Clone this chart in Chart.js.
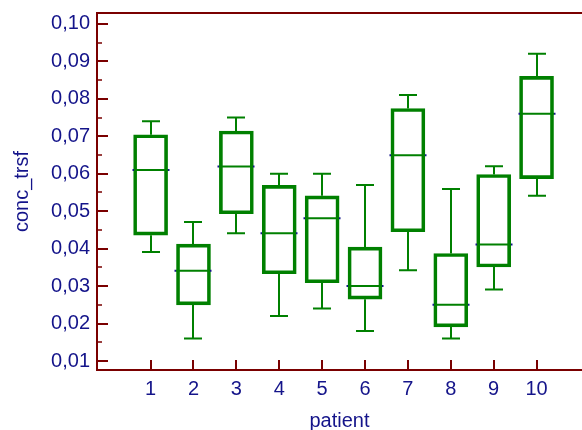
<!DOCTYPE html>
<html lang="en">
  <head>
    <meta charset="UTF-8" />
    <title>conc_trsf by patient</title>
    <script src="https://cdn.jsdelivr.net/npm/chart.js@4.4.1/dist/chart.umd.min.js"></script>
    <style>
      html,
      body {
        margin: 0;
        padding: 0;
        background: #fff;
      }
      #box {
        display: block;
      }
    </style>
  </head>
  <body>
    <canvas id="box" width="582" height="430"></canvas>
    <script>
      // values, one entry per patient
      const patients = [1, 2, 3, 4, 5, 6, 7, 8, 9, 10];
      const whiskerHigh = [0.074, 0.0471, 0.075, 0.06, 0.06, 0.057, 0.081, 0.0559, 0.062, 0.092];
      const q3 = [0.0704, 0.0412, 0.0714, 0.0569, 0.0541, 0.0404, 0.0774, 0.0387, 0.0598, 0.086];
      const medians = [0.061, 0.0341, 0.0619, 0.0441, 0.0481, 0.03, 0.0649, 0.025, 0.0411, 0.076];
      const q1 = [0.0436, 0.025, 0.0493, 0.0333, 0.0309, 0.0265, 0.0445, 0.0191, 0.0351, 0.0587];
      const whiskerLow = [0.0391, 0.016, 0.0441, 0.022, 0.024, 0.018, 0.0342, 0.016, 0.0291, 0.0541];
      const yTicks = [0.01, 0.02, 0.03, 0.04, 0.05, 0.06, 0.07, 0.08, 0.09, 0.1];
      const yMinor = [0.015, 0.025, 0.035, 0.045, 0.055, 0.065, 0.075, 0.085, 0.095];

      const green = "#008000";
      const maroon = "#7a0000";
      const navy = "#14148a";
      const font = { family: "'Liberation Sans', Arial, sans-serif", size: 20 };

      // whiskers, medians, axes frame and inward ticks
      const boxExtras = {
        id: "boxExtras",
        afterDatasetsDraw(chart) {
          const ctx = chart.ctx;
          const x = chart.scales.x;
          const y = chart.scales.y;
          const area = chart.chartArea;
          ctx.save();
          ctx.lineWidth = 2;
          ctx.lineCap = "butt";
          patients.forEach(function(p, i) {
            const cx = Math.round(x.getPixelForValue(p));
            ctx.strokeStyle = green;
            ctx.beginPath();
            ctx.moveTo(cx, y.getPixelForValue(q3[i]));
            ctx.lineTo(cx, y.getPixelForValue(whiskerHigh[i]));
            ctx.moveTo(cx - 9, y.getPixelForValue(whiskerHigh[i]));
            ctx.lineTo(cx + 9, y.getPixelForValue(whiskerHigh[i]));
            ctx.moveTo(cx, y.getPixelForValue(q1[i]));
            ctx.lineTo(cx, y.getPixelForValue(whiskerLow[i]));
            ctx.moveTo(cx - 9, y.getPixelForValue(whiskerLow[i]));
            ctx.lineTo(cx + 9, y.getPixelForValue(whiskerLow[i]));
            const my = y.getPixelForValue(medians[i]);
            ctx.moveTo(cx - 17, my);
            ctx.lineTo(cx + 17, my);
            ctx.stroke();
            // little blue ends on the median
            ctx.strokeStyle = navy;
            ctx.beginPath();
            ctx.moveTo(cx - 18.5, my);
            ctx.lineTo(cx - 17, my);
            ctx.moveTo(cx + 17, my);
            ctx.lineTo(cx + 18.5, my);
            ctx.stroke();
          });

          ctx.strokeStyle = maroon;
          ctx.lineWidth = 2;
          ctx.beginPath();
          ctx.moveTo(area.right, area.top);
          ctx.lineTo(area.left, area.top);
          ctx.lineTo(area.left, area.bottom);
          ctx.lineTo(area.right, area.bottom);
          ctx.stroke();

          ctx.beginPath();
          yTicks.forEach(function(v) {
            const py = Math.round(y.getPixelForValue(v));
            ctx.moveTo(area.left, py);
            ctx.lineTo(area.left + 11, py);
          });
          patients.forEach(function(p) {
            const px = Math.round(x.getPixelForValue(p));
            ctx.moveTo(px, area.bottom);
            ctx.lineTo(px, area.bottom - 10);
          });
          ctx.stroke();
          ctx.lineWidth = 1.5;
          ctx.beginPath();
          yMinor.forEach(function(v) {
            const py = Math.round(y.getPixelForValue(v));
            ctx.moveTo(area.left, py);
            ctx.lineTo(area.left + 5, py);
          });
          ctx.stroke();
          ctx.restore();
        }
      };

      var boxChart = new Chart(document.getElementById("box"), {
        type: "bar",
        data: {
          datasets: [
            {
              data: patients.map(function(p, i) {
                return { x: p, y: [q1[i], q3[i]] };
              }),
              backgroundColor: "rgba(0,0,0,0)",
              borderColor: green,
              borderWidth: 3,
              borderSkipped: false,
              barThickness: 34
            }
          ]
        },
        options: {
          responsive: false,
          animation: false,
          layout: {
            autoPadding: false,
            padding: { top: 13, right: 0, left: 0, bottom: 0 }
          },
          plugins: {
            legend: { display: false },
            tooltip: { enabled: false }
          },
          scales: {
            x: {
              type: "linear",
              offset: false,
              min: -0.25,
              max: 11.06,
              grid: { display: false, drawTicks: false, tickLength: 0 },
              border: { display: false },
              afterBuildTicks: function(s) {
                s.ticks = patients.map(function(v) {
                  return { value: v };
                });
              },
              afterFit: function(s) {
                s.height = 60;
                s.paddingLeft = 0;
                s.paddingRight = 0;
                s.paddingTop = 0;
                s.paddingBottom = 0;
              },
              ticks: {
                autoSkip: false,
                maxRotation: 0,
                padding: 7,
                color: navy,
                font: font,
                callback: function(v) {
                  return String(v);
                }
              },
              title: {
                display: true,
                text: "patient",
                color: navy,
                font: font,
                padding: { top: 0, bottom: -3 }
              }
            },
            y: {
              min: 0.0076,
              max: 0.1029,
              grid: { display: false, drawTicks: false, tickLength: 0 },
              border: { display: false },
              afterBuildTicks: function(s) {
                s.ticks = yTicks.map(function(v) {
                  return { value: v };
                });
              },
              afterFit: function(s) {
                s.width = 97;
                s.paddingLeft = 0;
                s.paddingRight = 0;
                s.paddingTop = 0;
                s.paddingBottom = 0;
              },
              ticks: {
                padding: 7,
                color: navy,
                font: font,
                callback: function(v) {
                  return v.toFixed(2).replace(".", ",");
                }
              },
              title: {
                display: true,
                text: "conc_trsf",
                color: navy,
                font: font,
                padding: { top: 10, bottom: 0 }
              }
            }
          }
        },
        plugins: [boxExtras]
      });
    </script>
  </body>
</html>
